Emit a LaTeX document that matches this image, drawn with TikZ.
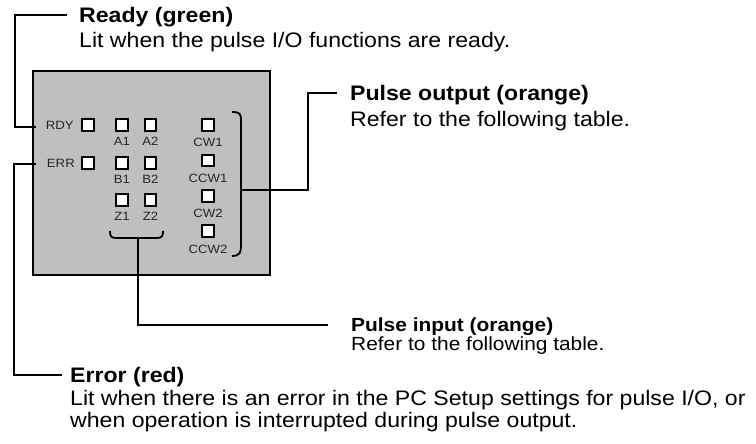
\documentclass[tikz,border=0pt]{standalone}
\usepackage{fontspec}
\setmainfont[FakeStretch=1.1]{Liberation Sans}
\begin{document}
\begin{tikzpicture}[x=1pt,y=-1pt,
  txt/.style={anchor=base west,inner sep=0pt,font=\fontsize{21}{25}\selectfont},
  ttl/.style={txt,font=\fontsize{21}{25}\selectfont\bfseries},
  stxt/.style={anchor=base west,inner sep=0pt,font=\fontsize{19}{22}\selectfont},
  sttl/.style={stxt,font=\fontsize{19}{22}\selectfont\bfseries},
  led/.style={draw=black,fill=white,line width=2.2pt,minimum size=11.5pt,inner sep=0pt},
  lbl/.style={inner sep=0pt,font=\fontsize{12}{14}\selectfont,text=black!85},
  leader/.style={line width=1.8pt},
  panel/.style={draw=black,fill=black!25,line width=2pt}]
\useasboundingbox (0,0) rectangle (756,444);
% panel
\node[panel,anchor=north west,minimum width=237pt,minimum height=204pt,inner sep=0pt] (panel) at (32,70) {};
% LEDs
\node[led] (rdy) at (88,125) {};
\node[led] (err) at (88,163) {};
\node[lbl,anchor=east] (rdyl) at (74,125) {RDY};
\node[lbl,anchor=east] (errl) at (75,163) {ERR};
\node[led] (a1) at (122,125) {};
\node[led] (a2) at (150.5,125) {};
\node[led] (b1) at (122,163) {};
\node[led] (b2) at (150.5,163) {};
\node[led] (z1) at (122,200) {};
\node[led] (z2) at (150.5,200) {};
\node[lbl] (a1l) at (122,141) {A1};
\node[lbl] (a2l) at (150.5,141) {A2};
\node[lbl] (b1l) at (122,179) {B1};
\node[lbl] (b2l) at (150.5,179) {B2};
\node[lbl] (z1l) at (122,216) {Z1};
\node[lbl] (z2l) at (150.5,216) {Z2};
\node[led] (cw1) at (208,125) {};
\node[led] (ccw1) at (208,160.5) {};
\node[led] (cw2) at (208,196) {};
\node[led] (ccw2) at (208,231) {};
\node[lbl] (cw1l) at (208,142) {CW1};
\node[lbl] (ccw1l) at (208,178) {CCW1};
\node[lbl] (cw2l) at (208,213) {CW2};
\node[lbl] (ccw2l) at (208,249) {CCW2};
% brackets
\draw[leader] (232,112) .. controls (240,112) and (241,114) .. (241,120) -- (241,246) .. controls (241,252) and (240,256) .. (232,256);
\draw[leader] (110,231) .. controls (110,236) and (111,238) .. (116,238) -- (157,238) .. controls (162,238) and (163,236) .. (163,231);
\coordinate (obr) at (241,190);
\coordinate (ibr) at (138,238);
% texts
\node[ttl] (readyT) at (79,23) {Ready (green)};
\node[txt] (readyB) at (79,48) {Lit when the pulse I/O functions are ready.};
\node[ttl] (outT) at (350,101) {Pulse output (orange)};
\node[txt] (outB) at (350,126) {Refer to the following table.};
\node[sttl] (inT) at (351,331) {Pulse input (orange)};
\node[stxt] (inB) at (351,350) {Refer to the following table.};
\node[ttl] (errT) at (70,382) {Error (red)};
\node[txt] (errB1) at (70,405) {Lit when there is an error in the PC Setup settings for pulse I/O, or};
\node[txt] (errB2) at (70,427) {when operation is interrupted during pulse output.};
% leaders
\coordinate (rdyin) at (36,127);
\coordinate (errin) at (36,164);
\coordinate (rdyend) at (67,15);
\coordinate (errend) at (62,375);
\coordinate (outend) at (337,93);
\coordinate (inend) at (328,325);
\draw[leader] (rdyin) -| (15,15) -- (rdyend);
\draw[leader] (errin) -| (14,375) -- (errend);
\draw[leader] (obr) -| (308,93) -- (outend);
\draw[leader] (ibr) |- (inend);
\end{tikzpicture}
\end{document}
